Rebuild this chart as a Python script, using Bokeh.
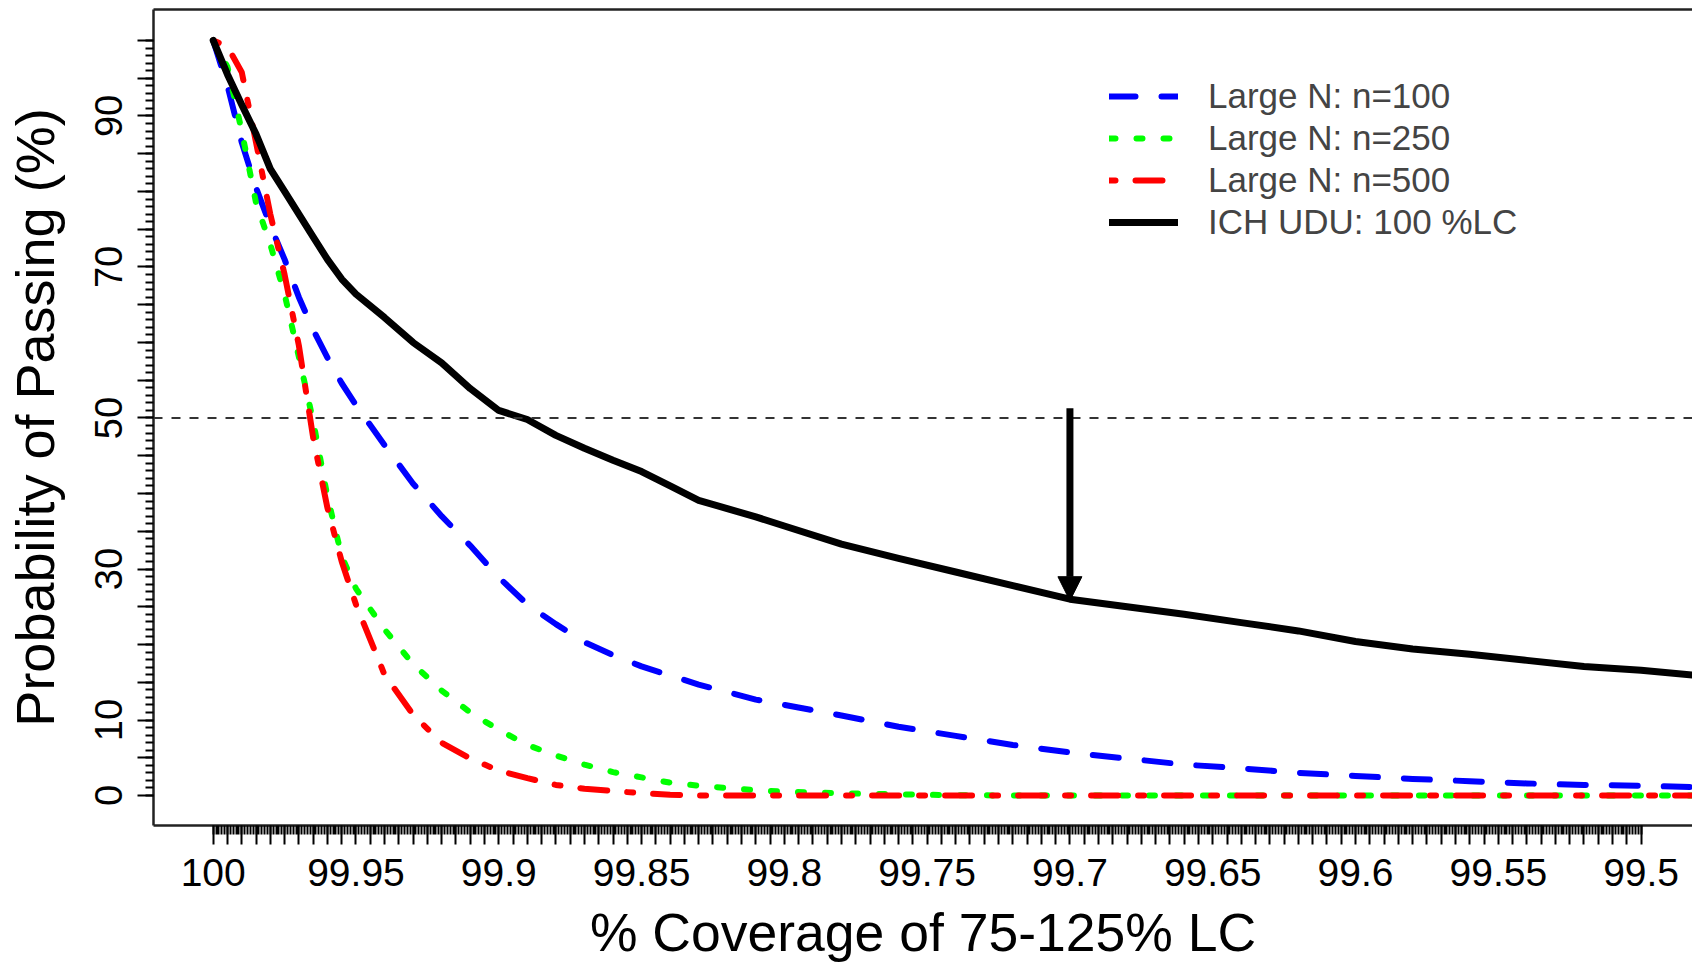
from bokeh.plotting import figure
from bokeh.models import (Range1d, FixedTicker, LinearAxis, Legend, LegendItem,
                          Arrow, NormalHead, Span)
from bokeh.embed import file_html
from bokeh.resources import INLINE

# ---- data ----
coverage = [100, 99.995, 99.99, 99.985, 99.98, 99.975, 99.97, 99.965, 99.96, 99.955, 99.95,
            99.94, 99.93, 99.92, 99.91, 99.90, 99.89, 99.88, 99.87, 99.86, 99.85,
            99.84, 99.83, 99.82, 99.81, 99.80, 99.78, 99.76, 99.74, 99.72, 99.70,
            99.68, 99.66, 99.64, 99.62, 99.60, 99.58, 99.56, 99.54, 99.52, 99.50, 99.48]

large_n100 = [100, 94.0, 86.5, 80.5, 75.5, 71.0, 66.0, 61.7, 58.0, 54.6, 51.7,
              46.4, 41.3, 37.0, 33.1, 28.9, 25.3, 22.7, 20.3, 18.6, 17.1,
              15.9, 14.7, 13.7, 12.7, 12.0, 10.6, 9.1, 7.9, 6.7, 5.7,
              4.9, 4.1, 3.6, 3.0, 2.6, 2.2, 1.9, 1.6, 1.4, 1.3, 1.1]

large_n250 = [100, 96.5, 88.0, 78.5, 73.0, 66.4, 58.1, 49.6, 39.6, 31.7, 27.4,
              22.0, 17.4, 13.9, 11.0, 8.7, 6.7, 5.3, 4.1, 3.1, 2.4,
              1.7, 1.3, 1.0, 0.7, 0.5, 0.3, 0.15, 0.05, 0, 0,
              0, 0, 0, 0, 0, 0, 0, 0, 0, 0, 0]

large_n500 = [100, 99.2, 95.8, 86.5, 77.0, 69.0, 59.6, 47.4, 38.1, 31.0, 25.3,
              16.0, 10.7, 7.0, 4.9, 3.3, 2.3, 1.4, 0.9, 0.6, 0.3,
              0.1, 0, 0, 0, 0, 0, 0, 0, 0, 0,
              0, 0, 0, 0, 0, 0, 0, 0, 0, 0, 0]

ich_udu = [100, 95.5, 91.5, 87.6, 83.0, 80.0, 77.0, 74.0, 71.0, 68.4, 66.4,
           63.3, 60.0, 57.3, 53.9, 51.0, 49.8, 47.7, 46.0, 44.4, 42.9,
           41.0, 39.1, 38.0, 36.9, 35.7, 33.3, 31.4, 29.6, 27.8, 26.0,
           25.0, 24.0, 22.9, 21.8, 20.4, 19.4, 18.7, 17.9, 17.1, 16.6, 15.9]

series_labels = ["Large N: n=100", "Large N: n=250", "Large N: n=500", "ICH UDU: 100 %LC"]

x_tick_labels = ["100", "99.95", "99.9", "99.85", "99.8", "99.75", "99.7",
                 "99.65", "99.6", "99.55", "99.5"]
y_tick_labels = [0, 10, 30, 50, 70, 90]

reference_level = 50
arrow_x = 99.7
arrow_y_start = 51.3
arrow_y_end = 25.8

FONT = "Liberation Sans"

p = figure(width=1692, height=966, output_backend="svg", toolbar_location=None,
           x_range=Range1d(100.0209, 99.482), y_range=Range1d(-3.97, 104.1),
           min_border_left=153, min_border_right=0, min_border_top=9, min_border_bottom=141,
           x_axis_label="% Coverage of 75-125% LC", y_axis_label="Probability of Passing (%)")
p.grid.visible = False
p.outline_line_color = None
p.background_fill_color = "white"
p.border_fill_color = "white"

# x axis ticks
x_major = [round(100 - 0.005 * i, 3) for i in range(101)]
x_minor = [round(100 - 0.001 * i, 4) for i in range(501)]
label_set = {float(s): s for s in x_tick_labels}
x_over = {t: label_set.get(t, "") for t in x_major}
xa = p.xaxis[0]
xa.ticker = FixedTicker(ticks=x_major, minor_ticks=x_minor)
xa.major_label_overrides = x_over
xa.major_tick_in = 0
xa.major_tick_out = 19
xa.minor_tick_in = 0
xa.minor_tick_out = 9
xa.major_tick_line_width = 2
xa.minor_tick_line_width = 2
xa.axis_line_width = 2.5
xa.axis_line_color = "#222222"
xa.major_label_text_font = FONT
xa.major_label_text_font_size = "39px"
xa.major_label_text_color = "black"
xa.major_label_standoff = 14
xa.axis_label_text_font = FONT
xa.axis_label_text_font_size = "53.5px"
xa.axis_label_text_font_style = "normal"
xa.axis_label_text_color = "black"
xa.axis_label_standoff = 14

# y axis ticks
y_major = list(range(0, 101, 5))
y_minor = list(range(0, 101, 1))
ya = p.yaxis[0]
ya.ticker = FixedTicker(ticks=y_major, minor_ticks=y_minor)
ya.major_label_overrides = {t: (str(t) if t in y_tick_labels else "") for t in y_major}
ya.major_label_orientation = "vertical"
ya.major_tick_in = 0
ya.major_tick_out = 16
ya.minor_tick_in = 0
ya.minor_tick_out = 8
ya.major_tick_line_width = 2
ya.minor_tick_line_width = 2
ya.axis_line_width = 2.5
ya.axis_line_color = "#222222"
ya.major_label_text_font = FONT
ya.major_label_text_font_size = "38px"
ya.major_label_text_color = "black"
ya.major_label_standoff = 15
ya.axis_label_text_font = FONT
ya.axis_label_text_font_size = "54px"
ya.axis_label_text_font_style = "normal"
ya.axis_label_text_color = "black"
ya.axis_label_standoff = 28

# top border
top = LinearAxis(ticker=FixedTicker(ticks=[]), axis_line_width=2.5, axis_line_color="#222222",
                 major_tick_line_color=None, minor_tick_line_color=None,
                 major_label_text_font_size="0px", major_label_standoff=0)
p.add_layout(top, "above")

# reference line
p.add_layout(Span(location=reference_level, dimension="width", line_color="#333333",
                  line_width=2, line_dash="9 9"))

r1 = p.line(coverage, large_n100, line_color="#0000FF", line_width=6, line_dash="26 26",
            line_cap="round", line_join="round")
r2 = p.line(coverage, large_n250, line_color="#00FF00", line_width=6, line_dash="6 21",
            line_cap="round", line_join="round")
r3 = p.line(coverage, large_n500, line_color="#FF0000", line_width=6, line_dash="6 20 27 20",
            line_cap="round", line_join="round")
r4 = p.line(coverage, ich_udu, line_color="black", line_width=7, line_cap="round",
            line_join="round")

p.add_layout(Arrow(end=NormalHead(size=24, fill_color="black", line_color="black"),
                   x_start=arrow_x, y_start=arrow_y_start, x_end=arrow_x, y_end=arrow_y_end,
                   line_width=7, line_color="black"))

legend = Legend(items=[LegendItem(label=l, renderers=[r]) for l, r in
                       zip(series_labels, [r1, r2, r3, r4])],
                location=(956, 583), margin=0, padding=0, spacing=2,
                glyph_width=69, glyph_height=40, label_height=40, label_standoff=30,
                label_text_font=FONT, label_text_font_size="35px",
                border_line_color=None, background_fill_alpha=0)
p.add_layout(legend)

open("out.html", "w").write(file_html(p, INLINE))
